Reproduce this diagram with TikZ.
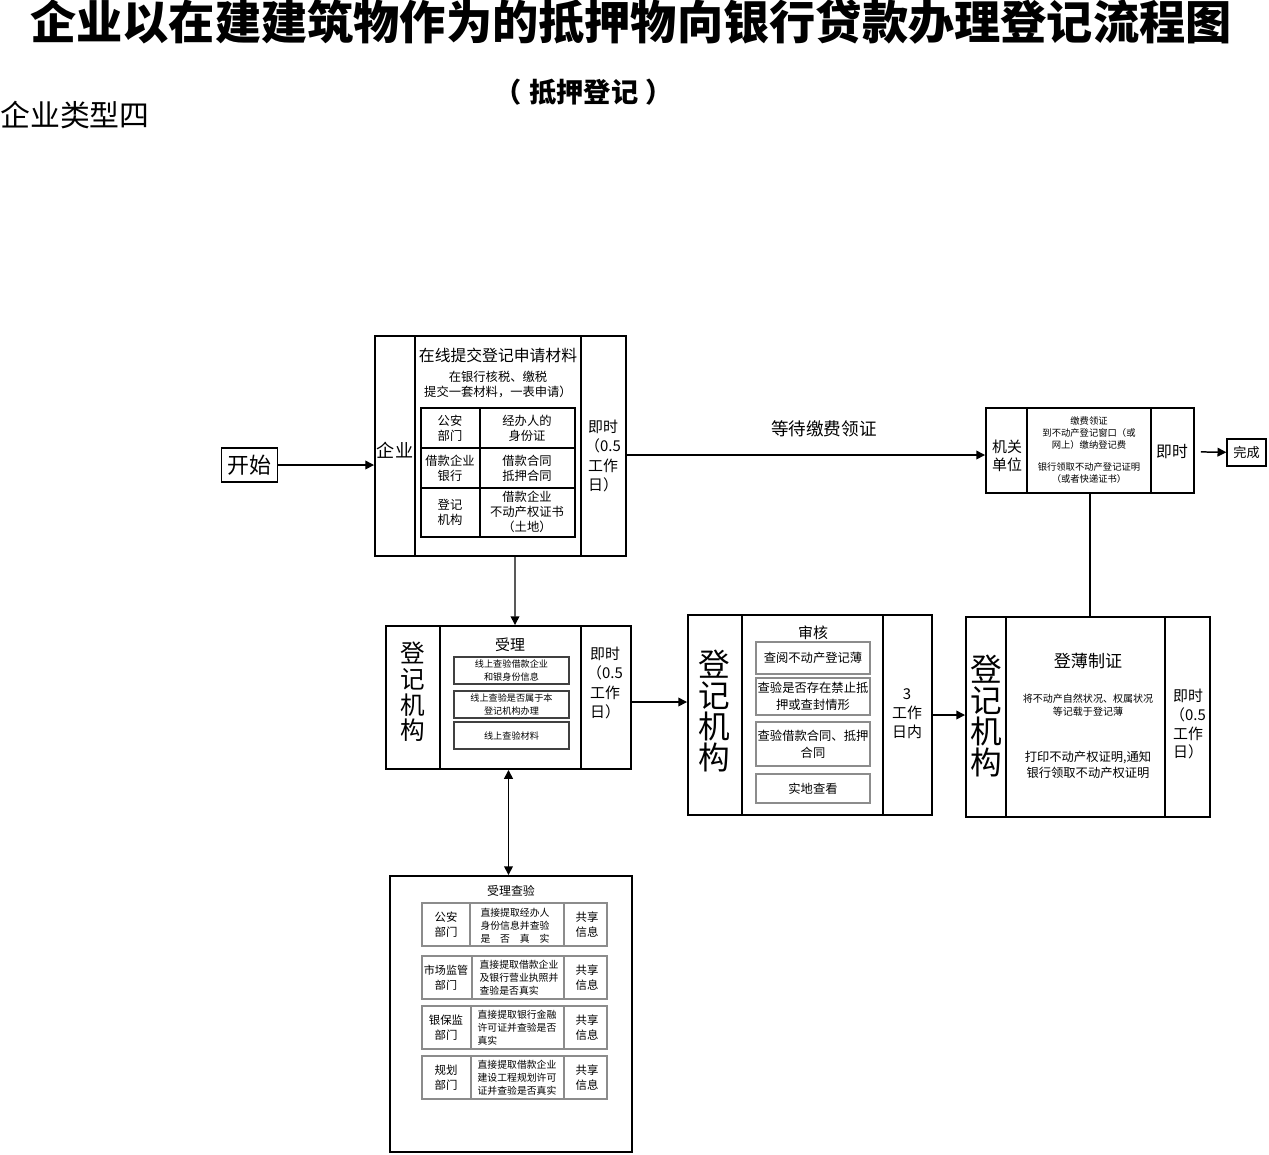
\documentclass[tikz,border=0pt]{standalone}
\usepackage{fontspec}
\setmainfont{Noto Sans CJK SC}
\usetikzlibrary{fit,arrows.meta}
\newcommand\fz[2]{\fontsize{#1}{#2}\selectfont}
\newcommand\jishi{即时\\（0.5\\工作\\日）}
\newcommand\djjg{登\\记\\机\\构}

\begin{document}
\begin{tikzpicture}[x=0.02cm,y=-0.02cm,
  frame/.style={draw,line width=1.1pt,inner sep=0pt},
  cell/.style={draw,line width=0.7pt,inner sep=0pt},
  greycell/.style={draw=black!45,line width=0.7pt,inner sep=0pt},
  txt/.style={align=center,inner sep=0pt},
  flow/.style={line width=0.85pt,-{Triangle[length=5pt,width=5pt]}}]
  \useasboundingbox (0,0) rectangle (1269,1154);
  \node[txt,font=\fz{26.3}{30}\bfseries] (title) at (631,22) {企业以在建建筑物作为的抵押物向银行贷款办理登记流程图};
  \node[txt,font=\fz{15.5}{18}\bfseries] (subtitle) at (584,92) {（\hspace{0.15cm}抵押登记\hspace{0.15cm}）};
  \node[txt,anchor=west,font=\fz{17}{20}] (kind) at (0,115) {企业类型四};

  \node[draw,line width=0.8pt,minimum width=1.1cm,minimum height=0.68cm,font=\fz{12.5}{14}] (start) at (249.5,465) {开始};
  \node[draw,line width=0.8pt,minimum width=0.78cm,minimum height=0.54cm,font=\fz{7.5}{9}] (done) at (1246.5,452.5) {完成};

  \node[frame,fit={(375,336) (626,556)}] (qy) {};
  \draw[frame] (415,336)--(415,556) (581,336)--(581,556);
  \node[txt,font=\fz{10.3}{13}] (qyname) at (395,450) {企业};
  \node[txt,font=\fz{9}{11}] (qytitle) at (498,355) {在线提交登记申请材料};
  \node[txt,font=\fz{7}{8.5}] (qynote) at (498,384) {在银行核税、缴税\\提交一套材料，一表申请）};
  \node[cell,fit={(421,408) (575,537)}] (tb) {};
  \draw[cell] (480,408)--(480,537) (421,448)--(575,448) (421,488)--(575,488);
  \node[txt,font=\fz{7}{8.5}] at (450,428) {公安\\部门};
  \node[txt,font=\fz{7}{8.5}] at (527,428) {经办人的\\身份证};
  \node[txt,font=\fz{7}{8.5}] at (450,468) {借款企业\\银行};
  \node[txt,font=\fz{7}{8.5}] at (527,468) {借款合同\\抵押合同};
  \node[txt,font=\fz{7}{8.5}] at (450,512) {登记\\机构};
  \node[txt,font=\fz{7}{8.5}] at (527,512) {借款企业\\不动产权证书\\（土地）};
  \node[txt,font=\fz{8.5}{11}] (qytime) at (603,456) {\jishi};

  \node[frame,fit={(986,408) (1194,493)}] (jg) {};
  \draw[frame] (1027,408)--(1027,493) (1151,408)--(1151,493);
  \node[txt,font=\fz{8.5}{10}] (jgname) at (1007,456) {机关\\单位};
  \node[txt,font=\fz{5.3}{6.8}] (jgnote) at (1089,450) {缴费领证\\到不动产登记窗口（或\\网上）缴纳登记费\\[6pt]银行领取不动产登记证明\\（或者快递证书）};
  \node[txt,font=\fz{9}{11}] (jgtime) at (1172,452) {即时};

  \node[frame,fit={(386,626) (631,769)}] (sl) {};
  \draw[frame] (440,626)--(440,769) (581,626)--(581,769);
  \node[txt,font=\fz{14}{14.6}] (slname) at (413,692) {\djjg};
  \node[txt,font=\fz{8.5}{10}] (sltitle) at (510,645) {受理};
  \node[cell,draw=black!75,fit={(454,657) (569,684)}] (sl1) {};
  \node[cell,draw=black!75,fit={(454,691) (569,718)}] (sl2) {};
  \node[cell,draw=black!75,fit={(454,722) (569,749)}] (sl3) {};
  \node[txt,font=\fz{5.2}{7}] at (sl1) {线上查验借款企业\\和银身份信息};
  \node[txt,font=\fz{5.2}{7}] at (sl2) {线上查验是否属于本\\登记机构办理};
  \node[txt,font=\fz{5.2}{7}] at (sl3) {线上查验材料};
  \node[txt,font=\fz{8.5}{11}] (sltime) at (605,683) {\jishi};

  \node[frame,fit={(688,615) (932,815)}] (sh) {};
  \draw[frame] (742,615)--(742,815) (883,615)--(883,815);
  \node[txt,font=\fz{18}{17.5}] (shname) at (714,711) {\djjg};
  \node[txt,font=\fz{8.5}{10}] (shtitle) at (813,633) {审核};
  \node[greycell,fit={(756,642) (870,674)}] (sh1) {};
  \node[greycell,fit={(756,678) (870,715)}] (sh2) {};
  \node[greycell,fit={(756,722) (870,766)}] (sh3) {};
  \node[greycell,fit={(756,774) (870,803)}] (sh4) {};
  \node[txt,font=\fz{7}{9.7}] at (sh1) {查阅不动产登记薄};
  \node[txt,font=\fz{7}{9.7}] at (sh2) {查验是否存在禁止抵\\押或查封情形};
  \node[txt,font=\fz{7}{9.7}] at (sh3) {查验借款合同、抵押\\合同};
  \node[txt,font=\fz{7}{9.7}] at (sh4) {实地查看};
  \node[txt,font=\fz{8.5}{10.8}] (shtime) at (907,714) {3\\工作\\日内};

  \node[frame,fit={(966,617) (1210,817)}] (dz) {};
  \draw[frame] (1006,617)--(1006,817) (1165,617)--(1165,817);
  \node[txt,font=\fz{18}{17.5}] (dzname) at (986,716) {\djjg};
  \node[txt,font=\fz{9.7}{12}] (dztitle) at (1088,661) {登薄制证};
  \node[txt,font=\fz{5.7}{7.6}] (dznote) at (1088,705) {将不动产自然状况、权属状况\\等记载于登记薄};
  \node[txt,font=\fz{7}{9.5}] (dzprint) at (1088,765) {打印不动产权证明,通知\\银行领取不动产权证明};
  \node[txt,font=\fz{8.5}{10.8}] (dztime) at (1188,724) {\jishi};

  \node[frame,fit={(390,876) (632,1152)}] (cy) {};
  \node[txt,font=\fz{6.8}{8}] (cytitle) at (511,891) {受理查验};
  \foreach \i/\y/\m in {1/903/470,2/956/472,3/1006/471,4/1056/471} {
    \node[greycell,fit={(422,\y) (607,\y+43)}] (row\i) {};
    \draw[greycell] (\m,\y)--(\m,\y+43) (564,\y)--(564,\y+43);
    \node[txt,font=\fz{6.5}{8.5}] at (587,\y+21.5) {共享\\信息};
  }
  \node[txt,font=\fz{6.5}{8.5}] at (446,924.5) {公安\\部门};
  \node[txt,font=\fz{6.3}{8.5}] at (446,977.5) {市场监管\\部门};
  \node[txt,font=\fz{6.5}{8.5}] at (446,1027.5) {银保监\\部门};
  \node[txt,font=\fz{6.5}{8.5}] at (446,1077.5) {规划\\部门};
  \node[txt,align=left,font=\fz{5.6}{7.3}] at (515,926) {直接提取经办人\\身份信息并查验\\是　否　真　实};
  \node[txt,align=left,font=\fz{5.6}{7.3}] at (519,978) {直接提取借款企业\\及银行营业执照并\\查验是否真实};
  \node[txt,align=left,font=\fz{5.6}{7.3}] at (517,1028) {直接提取银行金融\\许可证并查验是否\\真实};
  \node[txt,align=left,font=\fz{5.6}{7.3}] at (517,1078) {直接提取借款企业\\建设工程规划许可\\证并查验是否真实};

  \draw[flow] (start.east) -- (start.east -| qy.west);
  \draw[flow] ([yshift=-0.09cm]jg.west -| qy.east) -- node[pos=0.55,above=0.22cm,font=\fz{10}{12}] {等待缴费领证} ([yshift=-0.09cm]jg.west);
  \draw[flow,shorten <=0.12cm] (jg) -- (done);
  \draw[line width=0.85pt] (jg.south) -- (jg.south |- dz.north);
  \draw[flow] ([xshift=0.29cm]qy.south) -- ([xshift=0.13cm]sl.north);
  \draw[flow] ([yshift=-0.09cm]sl.east) -- ([yshift=-0.09cm]sl.east -| sh.west);
  \draw[flow] (sh.east) -- (sh.east -| dz.west);
  \draw[line width=0.85pt,{Triangle[length=5pt,width=5pt]}-{Triangle[length=5pt,width=5pt]}] (sl.south) -- (sl.south |- cy.north);
\end{tikzpicture}
\end{document}
